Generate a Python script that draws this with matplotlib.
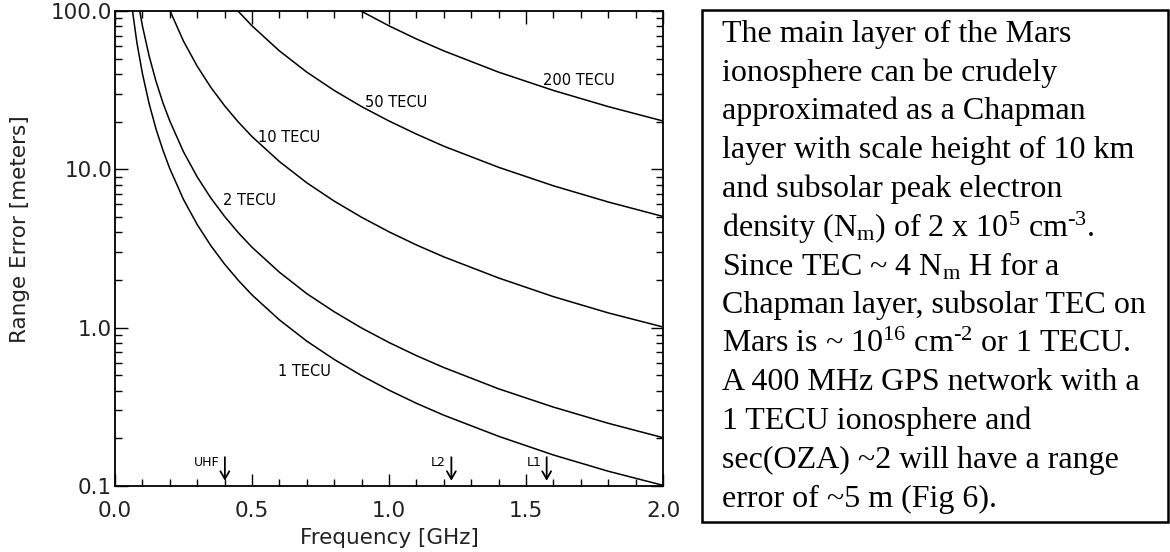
import matplotlib
matplotlib.use("Agg")
import matplotlib.pyplot as plt
from matplotlib.ticker import FixedLocator, FixedFormatter, MultipleLocator, LogLocator, NullFormatter
from matplotlib.patches import Rectangle

# ---------------- data ----------------
freq_ghz = [0.06, 0.08, 0.10, 0.125, 0.15, 0.175, 0.20, 0.25, 0.30, 0.35, 0.40, 0.45,
            0.50, 0.60, 0.70, 0.80, 0.90, 1.00, 1.10, 1.20, 1.40, 1.60, 1.80, 2.00]
err_1tecu = [112, 63.0, 40.3, 25.8, 17.9, 13.2, 10.1, 6.45, 4.48, 3.29, 2.52, 1.99,
             1.61, 1.12, 0.822, 0.630, 0.498, 0.403, 0.333, 0.280, 0.206, 0.157, 0.124, 0.101]
err_2tecu = [224, 126, 80.6, 51.6, 35.8, 26.3, 20.2, 12.9, 8.96, 6.58, 5.04, 3.98,
             3.22, 2.24, 1.64, 1.26, 0.995, 0.806, 0.666, 0.560, 0.411, 0.315, 0.249, 0.202]
err_10tecu = [1119, 630, 403, 258, 179, 132, 101, 64.5, 44.8, 32.9, 25.2, 19.9,
              16.1, 11.2, 8.22, 6.30, 4.98, 4.03, 3.33, 2.80, 2.06, 1.57, 1.24, 1.01]
err_50tecu = [5597, 3148, 2015, 1290, 896, 658, 504, 322, 224, 164, 126, 99.5,
              80.6, 56.0, 41.1, 31.5, 24.9, 20.2, 16.7, 14.0, 10.3, 7.87, 6.22, 5.04]
err_200tecu = [22389, 12594, 8060, 5158, 3582, 2632, 2015, 1290, 896, 658, 504, 398,
               322, 224, 164, 126, 99.5, 80.6, 66.6, 56.0, 41.1, 31.5, 24.9, 20.2]

curve_labels = ["1 TECU", "2 TECU", "10 TECU", "50 TECU", "200 TECU"]
label_x = [0.595, 0.394, 0.522, 0.912, 1.562]
label_y = [0.525, 6.4, 16.0, 26.6, 36.6]

bands = ["UHF", "L2", "L1"]
band_freqs = [0.401, 1.2276, 1.5754]

y_ticks = [0.1, 1.0, 10.0, 100.0]
y_ticklabels = ["0.1", "1.0", "10.0", "100.0"]
x_ticks = [0.0, 0.5, 1.0, 1.5, 2.0]
x_ticklabels = ["0.0", "0.5", "1.0", "1.5", "2.0"]

box_lines = [
    r"The main layer of the Mars",
    r"ionosphere can be crudely",
    r"approximated as a Chapman",
    r"layer with scale height of 10 km",
    r"and subsolar peak electron",
    r"density (N$_{\mathrm{m}}$) of 2 x 10$^{\mathrm{5}}$ cm$^{\text{-3}}$.",
    r"Since TEC ~ 4 N$_{\mathrm{m}}$ H for a",
    r"Chapman layer, subsolar TEC on",
    r"Mars is ~ 10$^{\mathrm{16}}$ cm$^{\text{-2}}$ or 1 TECU.",
    r"A 400 MHz GPS network with a",
    r"1 TECU ionosphere and",
    r"sec(OZA) ~2 will have a range",
    r"error of ~5 m (Fig 6).",
]

# ---------------- figure ----------------
W, H = 1170, 552
plt.rcParams["font.family"] = ["DejaVu Sans"]
plt.rcParams["mathtext.fontset"] = "custom"
plt.rcParams["mathtext.rm"] = "Liberation Serif"
plt.rcParams["mathtext.it"] = "Liberation Serif:italic"
plt.rcParams["mathtext.bf"] = "Liberation Serif:bold"

fig = plt.figure(figsize=(W / 100, H / 100), dpi=100)
ax = fig.add_axes([115 / W, 1 - 486 / H, (663 - 115) / W, (486 - 11) / H])

series = [err_1tecu, err_2tecu, err_10tecu, err_50tecu, err_200tecu]
for s in series:
    ax.plot(freq_ghz, s, color="black", lw=1.1)

for lab, lx, ly in zip(curve_labels, label_x, label_y):
    ax.text(lx, ly, lab, fontsize=10.5, ha="left", va="center", color="black")

for b, f in zip(bands, band_freqs):
    ax.annotate("", xy=(f, 0.108), xytext=(f, 0.152),
                arrowprops=dict(arrowstyle="->,head_length=0.55,head_width=0.32",
                                color="black", lw=1.3, shrinkA=0, shrinkB=0))
    ax.text(f - 0.02, 0.140, b, fontsize=9, ha="right", va="center", color="black")

ax.set_yscale("log")
ax.set_xlim(0, 2.0)
ax.set_ylim(0.1, 100)
ax.yaxis.set_major_locator(FixedLocator(y_ticks))
ax.yaxis.set_major_formatter(FixedFormatter(y_ticklabels))
ax.yaxis.set_minor_locator(LogLocator(base=10, subs=range(2, 10)))
ax.yaxis.set_minor_formatter(NullFormatter())
ax.xaxis.set_major_locator(FixedLocator(x_ticks))
ax.xaxis.set_major_formatter(FixedFormatter(x_ticklabels))
ax.xaxis.set_minor_locator(MultipleLocator(0.1))

ax.tick_params(which="both", direction="in", top=True, right=True, color="black",
               labelsize=15.5, labelcolor="#222222", width=1.0)
ax.tick_params(which="major", length=9)
ax.tick_params(which="minor", length=5)
ax.tick_params(axis="x", which="major", pad=11)
ax.tick_params(axis="y", which="major", pad=2)
for sp in ax.spines.values():
    sp.set_linewidth(1.3)

ax.set_xlabel("Frequency [GHz]", fontsize=15.5, color="#222222", labelpad=5)
ax.set_ylabel("Range Error [meters]", fontsize=15.5, color="#222222", va="center")
ax.yaxis.set_label_coords(-0.173, 0.541)

# text box
fig.patches.append(Rectangle((702 / W, 1 - 522 / H), (1168 - 702) / W, (522 - 10) / H,
                             transform=fig.transFigure, fill=False, ec="black", lw=1.8))
x0 = 722 / W
y_top = 34
pitch = 38.75
for i, line in enumerate(box_lines):
    fig.text(x0, 1 - (y_top + i * pitch) / H, line, fontsize=23,
             family="Liberation Serif", ha="left", va="center", color="black")

fig.savefig("out.png", dpi=100)
